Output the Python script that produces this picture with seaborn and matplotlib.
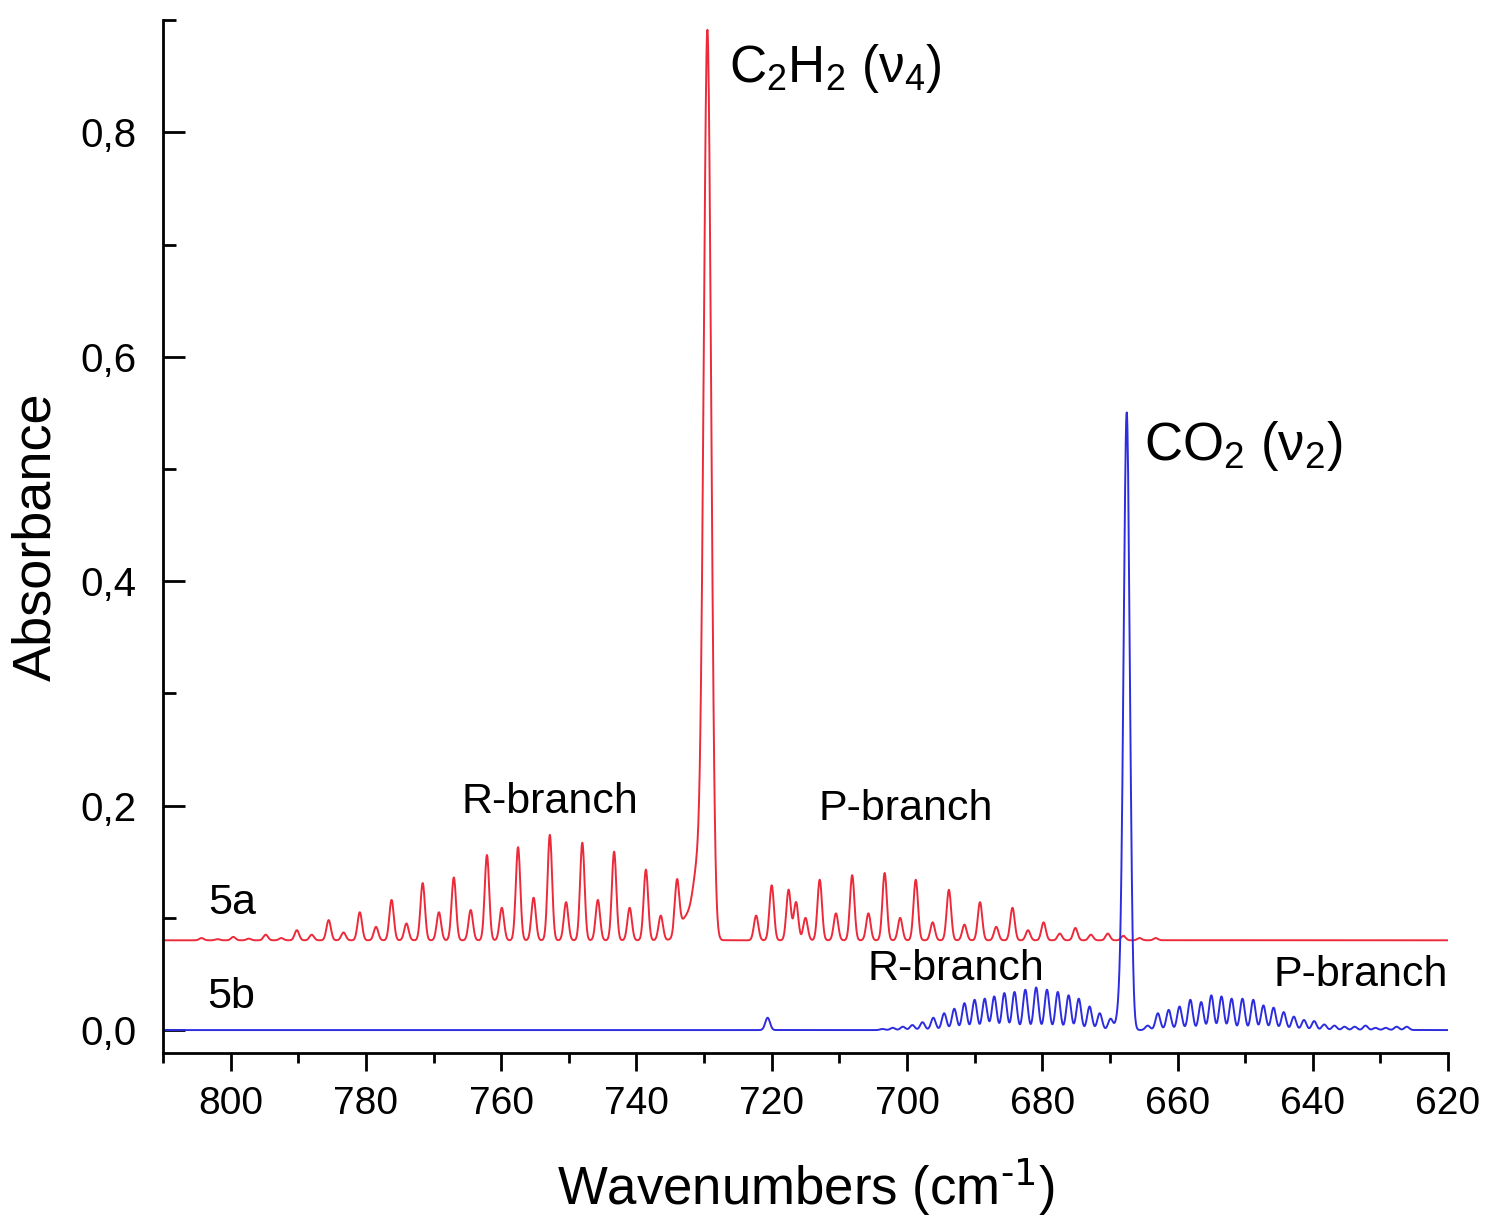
import numpy as np
import pandas as pd
import seaborn as sns
import matplotlib.pyplot as plt
import matplotlib.ticker as ticker

# peak positions (cm-1) and heights above baseline
c2h2_base = 0.08
c2h2_r_pos = [804.3, 801.9, 799.6, 797.3, 794.8, 792.5, 790.2, 788.0, 785.5, 783.3,
              780.9, 778.5, 776.2, 774.0, 771.6, 769.2, 767.0, 764.5, 762.1, 759.9,
              757.5, 755.2, 752.8, 750.4, 748.0, 745.7, 743.3, 741.0, 738.6, 736.4, 734.0]
c2h2_r_amp = [0.002, 0.001, 0.003, 0.0015, 0.005, 0.002, 0.009, 0.005, 0.018, 0.007,
              0.025, 0.012, 0.036, 0.015, 0.051, 0.025, 0.056, 0.027, 0.076, 0.029,
              0.083, 0.038, 0.094, 0.034, 0.087, 0.036, 0.079, 0.029, 0.063, 0.022, 0.047]
c2h2_q_pos = [732.6, 730.9, 729.5]
c2h2_q_amp = [0.02, 0.06, 0.803]
c2h2_q_wid = [1.0, 0.7, 0.55]
c2h2_p_pos = [722.3, 720.0, 717.5, 716.4, 715.0, 712.9, 710.5, 708.1, 705.7, 703.3,
              701.0, 698.7, 696.2, 693.8, 691.5, 689.2, 686.8, 684.4, 682.1, 679.8,
              677.4, 675.1, 672.8, 670.3, 668.0, 665.6, 663.2]
c2h2_p_amp = [0.022, 0.049, 0.045, 0.034, 0.020, 0.054, 0.024, 0.058, 0.024, 0.060,
              0.020, 0.054, 0.016, 0.045, 0.014, 0.034, 0.012, 0.029, 0.009, 0.016,
              0.006, 0.011, 0.005, 0.006, 0.004, 0.002, 0.002]

co2_base = 0.0
co2_extra_pos = [720.6]
co2_extra_amp = [0.011]
co2_r_pos = [703.6, 702.1, 700.6, 699.2, 697.7, 696.1, 694.5, 693.0, 691.5, 690.0,
             688.5, 687.1, 685.6, 684.1, 682.5, 680.9, 679.3, 677.7, 676.1, 674.6,
             673.0, 671.5, 669.9]
co2_r_amp = [0.001, 0.002, 0.003, 0.0045, 0.007, 0.011, 0.015, 0.019, 0.024, 0.027,
             0.028, 0.030, 0.033, 0.034, 0.036, 0.038, 0.036, 0.034, 0.031, 0.028,
             0.021, 0.015, 0.010]
co2_q_pos = [668.3, 667.5]
co2_q_amp = [0.03, 0.542]
co2_q_wid = [0.5, 0.45]
co2_p_pos = [664.4, 662.9, 661.3, 659.7, 658.1, 656.5, 655.0, 653.5, 652.0, 650.4,
             648.8, 647.3, 645.8, 644.3, 642.8, 641.3, 639.8, 638.3, 636.8, 635.3,
             633.8, 632.2, 630.7, 629.2, 627.6, 626.1]
co2_p_amp = [0.004, 0.015, 0.018, 0.021, 0.027, 0.025, 0.031, 0.030, 0.028, 0.028,
             0.027, 0.022, 0.020, 0.016, 0.012, 0.009, 0.008, 0.005, 0.004, 0.003,
             0.003, 0.004, 0.002, 0.002, 0.003, 0.003]

x_ticks = [800, 780, 760, 740, 720, 700, 680, 660, 640, 620]
y_ticks = [0.0, 0.2, 0.4, 0.6, 0.8]

wn = np.arange(620, 810.001, 0.05)


def band(pos, amp, width):
    out = np.zeros_like(wn)
    widths = width if isinstance(width, list) else [width] * len(pos)
    for p, a, w in zip(pos, amp, widths):
        out += a * np.exp(-(wn - p) ** 2 / (2 * w ** 2))
    return out


red = (c2h2_base + band(c2h2_r_pos, c2h2_r_amp, 0.33) + band(c2h2_q_pos, c2h2_q_amp, c2h2_q_wid)
       + band(c2h2_p_pos, c2h2_p_amp, 0.33))
blue = (co2_base + band(co2_extra_pos, co2_extra_amp, 0.35) + band(co2_r_pos, co2_r_amp, 0.35)
        + band(co2_q_pos, co2_q_amp, co2_q_wid) + band(co2_p_pos, co2_p_amp, 0.35))

df = pd.concat([
    pd.DataFrame({'wn': wn, 'A': red, 'spec': '5a'}),
    pd.DataFrame({'wn': wn, 'A': blue, 'spec': '5b'}),
])

sns.set_style('ticks', {'axes.edgecolor': 'black', 'text.color': 'black',
                        'axes.labelcolor': 'black', 'xtick.color': 'black',
                        'ytick.color': 'black'})
plt.rcParams['font.family'] = ['Liberation Sans', 'DejaVu Sans']
plt.rcParams['mathtext.default'] = 'regular'

fig = plt.figure(figsize=(14.91, 12.23), dpi=100)
ax = fig.add_axes([0.1093, 0.1394, 0.8619, 0.8442])

sns.lineplot(data=df, x='wn', y='A', hue='spec', hue_order=['5a', '5b'],
             palette={'5a': '#ec2a3a', '5b': '#2d2de0'}, estimator=None,
             linewidth=1.4, legend=False, ax=ax)

ax.set_xlim(810, 620)
ax.set_ylim(-0.02, 0.9)
ax.xaxis.set_major_locator(ticker.FixedLocator(x_ticks))
ax.xaxis.set_minor_locator(ticker.MultipleLocator(10))
ax.yaxis.set_major_locator(ticker.FixedLocator(y_ticks))
ax.yaxis.set_minor_locator(ticker.MultipleLocator(0.1))
ax.yaxis.set_major_formatter(ticker.FuncFormatter(lambda v, _: f'{v:.1f}'.replace('.', ',')))

sns.despine(ax=ax)
for s in ['left', 'bottom']:
    ax.spines[s].set_linewidth(2.0)
ax.tick_params(axis='x', which='major', direction='out', length=13, width=2, pad=11,
               labelsize=28)
ax.tick_params(axis='x', which='minor', direction='out', length=7, width=2)
ax.tick_params(axis='y', which='major', direction='in', length=16, width=2, pad=19,
               labelsize=29)
ax.tick_params(axis='y', which='minor', direction='in', length=9, width=2)

ax.set_xlabel(r'Wavenumbers (cm$^{\text{-1}}$)', fontsize=38, va='top')
ax.set_ylabel('Absorbance', fontsize=39)
ax.xaxis.set_label_coords(0.5, -0.1)
ax.yaxis.set_label_coords(-0.079, 0.5)

ax.text(726.3, 0.8445, 'C$_2$H$_2$ (ν$_4$)', fontsize=37, ha='left', va='baseline')
ax.text(664.9, 0.508, 'CO$_2$ (ν$_2$)', fontsize=38, ha='left', va='baseline')
ax.text(752.8, 0.193, 'R-branch', fontsize=31, ha='center', va='baseline')
ax.text(700.2, 0.187, 'P-branch', fontsize=31, ha='center', va='baseline')
ax.text(692.8, 0.0445, 'R-branch', fontsize=31, ha='center', va='baseline')
ax.text(632.9, 0.039, 'P-branch', fontsize=31, ha='center', va='baseline')
ax.text(799.7, 0.1033, '5a', fontsize=31, ha='center', va='baseline')
ax.text(799.9, 0.0196, '5b', fontsize=31, ha='center', va='baseline')

fig.savefig('out.png', dpi=100)
